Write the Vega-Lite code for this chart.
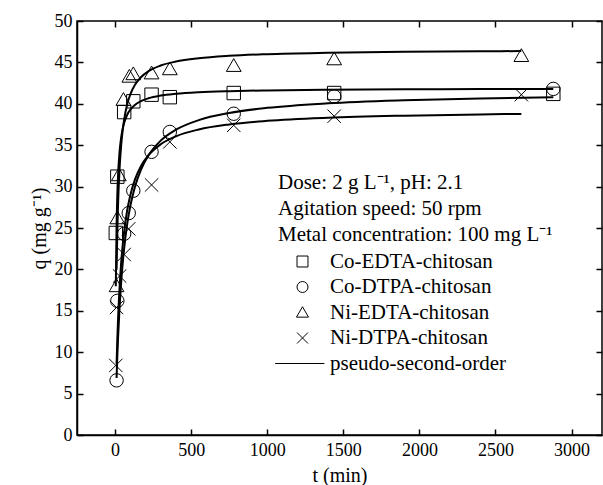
{
  "$schema": "https://vega.github.io/schema/vega-lite/v6.json",
  "width": 525,
  "height": 414,
  "autosize": "none",
  "padding": {"left": 77, "top": 21, "right": 1, "bottom": 50},
  "background": "white",
  "config": {
    "view": {"stroke": "black", "strokeWidth": 1.5},
    "font": "Liberation Serif, Times New Roman, serif",
    "axis": {"grid": false, "domainColor": "black", "domainWidth": 1.5, "tickColor": "black", "tickWidth": 1.5, "labelColor": "black", "titleColor": "black", "labelFont": "Liberation Serif, Times New Roman, serif", "titleFont": "Liberation Serif, Times New Roman, serif", "labelFontSize": 18, "titleFontSize": 20, "titleFontWeight": "normal", "format": "d"}
  },
  "datasets": {
    "pts": [
      {"series": "Co-EDTA-chitosan", "t": 5, "q": 24.4},
      {"series": "Co-EDTA-chitosan", "t": 15, "q": 31.2},
      {"series": "Co-EDTA-chitosan", "t": 60, "q": 39.0},
      {"series": "Co-EDTA-chitosan", "t": 120, "q": 40.3},
      {"series": "Co-EDTA-chitosan", "t": 240, "q": 41.1},
      {"series": "Co-EDTA-chitosan", "t": 360, "q": 40.8},
      {"series": "Co-EDTA-chitosan", "t": 780, "q": 41.3},
      {"series": "Co-EDTA-chitosan", "t": 1440, "q": 41.3},
      {"series": "Co-EDTA-chitosan", "t": 2880, "q": 41.2},
      {"series": "Co-DTPA-chitosan", "t": 10, "q": 6.6},
      {"series": "Co-DTPA-chitosan", "t": 15, "q": 16.2},
      {"series": "Co-DTPA-chitosan", "t": 60, "q": 24.3},
      {"series": "Co-DTPA-chitosan", "t": 90, "q": 26.8},
      {"series": "Co-DTPA-chitosan", "t": 120, "q": 29.5},
      {"series": "Co-DTPA-chitosan", "t": 240, "q": 34.2},
      {"series": "Co-DTPA-chitosan", "t": 360, "q": 36.6},
      {"series": "Co-DTPA-chitosan", "t": 780, "q": 38.8},
      {"series": "Co-DTPA-chitosan", "t": 1440, "q": 40.9},
      {"series": "Co-DTPA-chitosan", "t": 2880, "q": 41.8},
      {"series": "Ni-EDTA-chitosan", "t": 10, "q": 18.0},
      {"series": "Ni-EDTA-chitosan", "t": 15, "q": 26.2},
      {"series": "Ni-EDTA-chitosan", "t": 25, "q": 31.4},
      {"series": "Ni-EDTA-chitosan", "t": 55, "q": 40.5},
      {"series": "Ni-EDTA-chitosan", "t": 94, "q": 43.3},
      {"series": "Ni-EDTA-chitosan", "t": 120, "q": 43.6},
      {"series": "Ni-EDTA-chitosan", "t": 240, "q": 43.7},
      {"series": "Ni-EDTA-chitosan", "t": 360, "q": 44.2},
      {"series": "Ni-EDTA-chitosan", "t": 780, "q": 44.6},
      {"series": "Ni-EDTA-chitosan", "t": 1440, "q": 45.4},
      {"series": "Ni-EDTA-chitosan", "t": 2670, "q": 45.8},
      {"series": "Ni-DTPA-chitosan", "t": 5, "q": 8.4},
      {"series": "Ni-DTPA-chitosan", "t": 10, "q": 15.4},
      {"series": "Ni-DTPA-chitosan", "t": 30, "q": 19.2},
      {"series": "Ni-DTPA-chitosan", "t": 60, "q": 21.8},
      {"series": "Ni-DTPA-chitosan", "t": 90, "q": 24.9},
      {"series": "Ni-DTPA-chitosan", "t": 240, "q": 30.2},
      {"series": "Ni-DTPA-chitosan", "t": 360, "q": 35.4},
      {"series": "Ni-DTPA-chitosan", "t": 780, "q": 37.4},
      {"series": "Ni-DTPA-chitosan", "t": 1440, "q": 38.5},
      {"series": "Ni-DTPA-chitosan", "t": 2670, "q": 41.1}
    ],
    "fit": [
      {"series": "Co-EDTA", "t": 5, "q": 17.96}, {"series": "Co-EDTA", "t": 10, "q": 25.14}, {"series": "Co-EDTA", "t": 15, "q": 29.01}, {"series": "Co-EDTA", "t": 20, "q": 31.43}, {"series": "Co-EDTA", "t": 30, "q": 34.28}, {"series": "Co-EDTA", "t": 40, "q": 35.91}, {"series": "Co-EDTA", "t": 50, "q": 36.97}, {"series": "Co-EDTA", "t": 60, "q": 37.71}, {"series": "Co-EDTA", "t": 80, "q": 38.68}, {"series": "Co-EDTA", "t": 100, "q": 39.28}, {"series": "Co-EDTA", "t": 130, "q": 39.86}, {"series": "Co-EDTA", "t": 170, "q": 40.32}, {"series": "Co-EDTA", "t": 220, "q": 40.67}, {"series": "Co-EDTA", "t": 300, "q": 40.99}, {"series": "Co-EDTA", "t": 400, "q": 41.21}, {"series": "Co-EDTA", "t": 550, "q": 41.40}, {"series": "Co-EDTA", "t": 750, "q": 41.53}, {"series": "Co-EDTA", "t": 1000, "q": 41.62}, {"series": "Co-EDTA", "t": 1400, "q": 41.70}, {"series": "Co-EDTA", "t": 1900, "q": 41.75}, {"series": "Co-EDTA", "t": 2400, "q": 41.78}, {"series": "Co-EDTA", "t": 2880, "q": 41.80},
      {"series": "Co-DTPA", "t": 10, "q": 6.89}, {"series": "Co-DTPA", "t": 15, "q": 9.54}, {"series": "Co-DTPA", "t": 20, "q": 11.81}, {"series": "Co-DTPA", "t": 30, "q": 15.51}, {"series": "Co-DTPA", "t": 40, "q": 18.39}, {"series": "Co-DTPA", "t": 50, "q": 20.70}, {"series": "Co-DTPA", "t": 60, "q": 22.58}, {"series": "Co-DTPA", "t": 80, "q": 25.49}, {"series": "Co-DTPA", "t": 100, "q": 27.62}, {"series": "Co-DTPA", "t": 130, "q": 29.93}, {"series": "Co-DTPA", "t": 170, "q": 32.03}, {"series": "Co-DTPA", "t": 220, "q": 33.78}, {"series": "Co-DTPA", "t": 300, "q": 35.55}, {"series": "Co-DTPA", "t": 400, "q": 36.87}, {"series": "Co-DTPA", "t": 550, "q": 38.03}, {"series": "Co-DTPA", "t": 750, "q": 38.89}, {"series": "Co-DTPA", "t": 1000, "q": 39.51}, {"series": "Co-DTPA", "t": 1400, "q": 40.06}, {"series": "Co-DTPA", "t": 1900, "q": 40.43}, {"series": "Co-DTPA", "t": 2400, "q": 40.65}, {"series": "Co-DTPA", "t": 2880, "q": 40.79},
      {"series": "Ni-EDTA", "t": 10, "q": 19.97}, {"series": "Ni-EDTA", "t": 15, "q": 24.67}, {"series": "Ni-EDTA", "t": 20, "q": 27.96}, {"series": "Ni-EDTA", "t": 30, "q": 32.26}, {"series": "Ni-EDTA", "t": 40, "q": 34.95}, {"series": "Ni-EDTA", "t": 50, "q": 36.79}, {"series": "Ni-EDTA", "t": 60, "q": 38.13}, {"series": "Ni-EDTA", "t": 80, "q": 39.94}, {"series": "Ni-EDTA", "t": 100, "q": 41.12}, {"series": "Ni-EDTA", "t": 130, "q": 42.27}, {"series": "Ni-EDTA", "t": 170, "q": 43.21}, {"series": "Ni-EDTA", "t": 220, "q": 43.94}, {"series": "Ni-EDTA", "t": 300, "q": 44.62}, {"series": "Ni-EDTA", "t": 400, "q": 45.10}, {"series": "Ni-EDTA", "t": 550, "q": 45.50}, {"series": "Ni-EDTA", "t": 750, "q": 45.79}, {"series": "Ni-EDTA", "t": 1000, "q": 45.99}, {"series": "Ni-EDTA", "t": 1400, "q": 46.16}, {"series": "Ni-EDTA", "t": 1900, "q": 46.28}, {"series": "Ni-EDTA", "t": 2400, "q": 46.34}, {"series": "Ni-EDTA", "t": 2670, "q": 46.37},
      {"series": "Ni-DTPA", "t": 10, "q": 8.57}, {"series": "Ni-DTPA", "t": 15, "q": 11.59}, {"series": "Ni-DTPA", "t": 20, "q": 14.08}, {"series": "Ni-DTPA", "t": 30, "q": 17.91}, {"series": "Ni-DTPA", "t": 40, "q": 20.73}, {"series": "Ni-DTPA", "t": 50, "q": 22.89}, {"series": "Ni-DTPA", "t": 60, "q": 24.60}, {"series": "Ni-DTPA", "t": 80, "q": 27.14}, {"series": "Ni-DTPA", "t": 100, "q": 28.93}, {"series": "Ni-DTPA", "t": 130, "q": 30.81}, {"series": "Ni-DTPA", "t": 170, "q": 32.46}, {"series": "Ni-DTPA", "t": 220, "q": 33.79}, {"series": "Ni-DTPA", "t": 300, "q": 35.11}, {"series": "Ni-DTPA", "t": 400, "q": 36.07}, {"series": "Ni-DTPA", "t": 550, "q": 36.90}, {"series": "Ni-DTPA", "t": 750, "q": 37.51}, {"series": "Ni-DTPA", "t": 1000, "q": 37.94}, {"series": "Ni-DTPA", "t": 1400, "q": 38.32}, {"series": "Ni-DTPA", "t": 1900, "q": 38.57}, {"series": "Ni-DTPA", "t": 2400, "q": 38.72}, {"series": "Ni-DTPA", "t": 2670, "q": 38.78}
    ]
  },
  "layer": [
    {
      "data": {"name": "fit"},
      "mark": {"type": "line", "color": "black", "strokeWidth": 2, "interpolate": "monotone", "clip": true},
      "encoding": {
        "x": {"field": "t", "type": "quantitative", "scale": {"domain": [-250, 3200], "nice": false, "zero": false},
          "axis": {"orient": "top", "values": [0, 500, 1000, 1500, 2000, 2500, 3000], "labels": false, "title": null, "domain": false, "tickSize": -6}},
        "y": {"field": "q", "type": "quantitative", "scale": {"domain": [0, 50], "nice": false},
          "axis": {"orient": "right", "values": [0, 5, 10, 15, 20, 25, 30, 35, 40, 45, 50], "labels": false, "title": null, "domain": false, "tickSize": -6}},
        "detail": {"field": "series"}
      }
    },
    {
      "data": {"name": "pts"},
      "mark": {"type": "point", "filled": false, "stroke": "black", "strokeWidth": 1, "size": 180, "opacity": 1},
      "encoding": {
        "x": {"field": "t", "type": "quantitative",
          "axis": {"orient": "bottom", "values": [0, 500, 1000, 1500, 2000, 2500, 3000], "title": "t (min)", "tickSize": -6, "labelPadding": 12, "titlePadding": 6}},
        "y": {"field": "q", "type": "quantitative",
          "axis": {"orient": "left", "values": [0, 5, 10, 15, 20, 25, 30, 35, 40, 45, 50], "title": "q (mg g⁻¹)", "tickSize": -6, "labelPadding": 11, "titlePadding": 5}},
        "shape": {"field": "series", "type": "nominal",
          "scale": {"domain": ["Co-EDTA-chitosan", "Co-DTPA-chitosan", "Ni-EDTA-chitosan", "Ni-DTPA-chitosan", "pseudo-second-order"],
            "range": ["square", "circle", "M-1.1,0.85L0,-1.05L1.1,0.85Z", "M-1,-1L1,1M-1,1L1,-1", "M-5.0,0H4.0"]},
          "legend": {"orient": "none", "legendX": 201, "legendY": 151,
            "title": ["Dose: 2 g L⁻¹, pH: 2.1", "Agitation speed: 50 rpm", "Metal concentration: 100 mg L⁻¹"],
            "titleFont": "Liberation Serif, Times New Roman, serif", "titleFontSize": 21, "titleFontWeight": "normal", "titleColor": "black", "titleLineHeight": 26, "titlePadding": 6, "titleLimit": 400,
            "labelFont": "Liberation Serif, Times New Roman, serif", "labelFontSize": 21, "labelColor": "black", "labelLimit": 300, "symbolOffset": 14, "labelOffset": 17, "rowPadding": 3.5,
            "symbolSize": 120, "symbolStrokeColor": "black", "symbolStrokeWidth": 1, "symbolFillColor": "transparent"}
        }
      }
    }
  ],
  "resolve": {"axis": {"x": "independent", "y": "independent"}}
}
